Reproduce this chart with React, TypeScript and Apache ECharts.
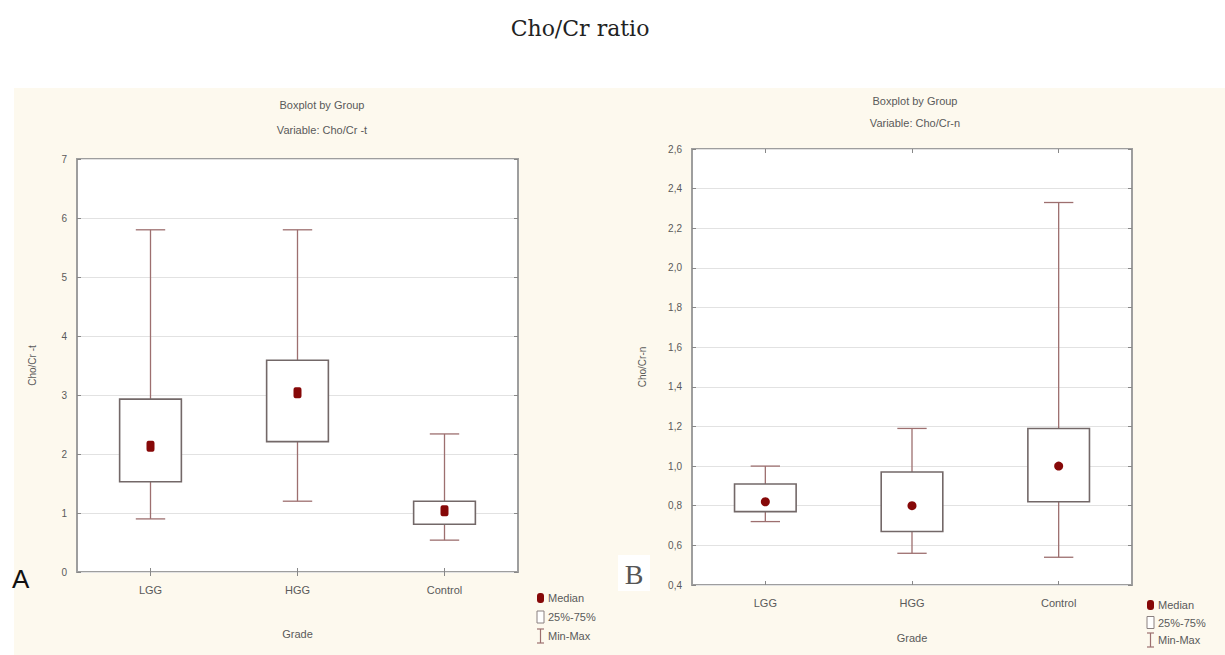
import React, { useEffect, useRef } from "react";
import * as echarts from "echarts";

// ---- data ----
const categories = ["LGG", "HGG", "Control"];
// Panel A: Cho/Cr -t
const aMin = [0.9, 1.2, 0.54];
const aQ1 = [1.53, 2.21, 0.81];
const aMedian = [2.13, 3.04, 1.04];
const aQ3 = [2.93, 3.59, 1.2];
const aMax = [5.8, 5.8, 2.34];
// Panel B: Cho/Cr-n
const bMin = [0.72, 0.56, 0.54];
const bQ1 = [0.77, 0.67, 0.82];
const bMedian = [0.82, 0.8, 1.0];
const bQ3 = [0.91, 0.97, 1.19];
const bMax = [1.0, 1.19, 2.33];

const legendLabels = ["Median", "25%-75%", "Min-Max"];

const BOX_COLOR = "#736868";
const WHISKER_COLOR = "#9d6f6f";
const MEDIAN_COLOR = "#860808";
const TEXT_COLOR = "#5a5a5a";
const SANS = "'Liberation Sans', Arial, sans-serif";

function boxRows(mn: number[], q1: number[], q3: number[], mx: number[]) {
  return categories.map((_, i) => [i, mn[i], q1[i], q3[i], mx[i]]);
}

function renderBox(params: any, api: any) {
  const i = api.value(0);
  const lo = api.coord([i, api.value(1)]);
  const q1 = api.coord([i, api.value(2)]);
  const q3 = api.coord([i, api.value(3)]);
  const hi = api.coord([i, api.value(4)]);
  const band = api.size([1, 0])[0];
  const bw = band * 0.42;
  const cw = band * 0.2;
  const cx = lo[0];
  const ws = { stroke: WHISKER_COLOR, lineWidth: 1.3 };
  return {
    type: "group",
    children: [
      { type: "line", shape: { x1: cx, y1: hi[1], x2: cx, y2: q3[1] }, style: ws },
      { type: "line", shape: { x1: cx, y1: q1[1], x2: cx, y2: lo[1] }, style: ws },
      { type: "line", shape: { x1: cx - cw / 2, y1: hi[1], x2: cx + cw / 2, y2: hi[1] }, style: ws },
      { type: "line", shape: { x1: cx - cw / 2, y1: lo[1], x2: cx + cw / 2, y2: lo[1] }, style: ws },
      {
        type: "rect",
        shape: { x: cx - bw / 2, y: q3[1], width: bw, height: q1[1] - q3[1] },
        style: { fill: "#ffffff", stroke: BOX_COLOR, lineWidth: 1.6 },
      },
    ],
  };
}

function legendGraphics(x: number, y0: number, dy: number, fs: number) {
  const els: any[] = [];
  els.push({ type: "rect", shape: { x: x - 3, y: y0 - 5, width: 7, height: 10, r: 3 }, style: { fill: MEDIAN_COLOR } });
  els.push({ type: "rect", shape: { x: x - 3, y: y0 + dy - 6, width: 7, height: 12 }, style: { fill: "#fff", stroke: "#8a8080", lineWidth: 1 } });
  const y2 = y0 + 2 * dy;
  els.push({ type: "line", shape: { x1: x + 0.5, y1: y2 - 7, x2: x + 0.5, y2: y2 + 7 }, style: { stroke: WHISKER_COLOR, lineWidth: 1.2 } });
  els.push({ type: "line", shape: { x1: x - 3, y1: y2 - 7, x2: x + 4, y2: y2 - 7 }, style: { stroke: WHISKER_COLOR, lineWidth: 1.2 } });
  els.push({ type: "line", shape: { x1: x - 3, y1: y2 + 7, x2: x + 4, y2: y2 + 7 }, style: { stroke: WHISKER_COLOR, lineWidth: 1.2 } });
  legendLabels.forEach((t, k) => {
    els.push({
      type: "text",
      x: x + 8,
      y: y0 + k * dy,
      style: { text: t, fill: TEXT_COLOR, font: `${fs}px ${SANS}`, verticalAlign: "middle", align: "left" },
    });
  });
  return els;
}

function subtitle(text: string, x: number, y: number) {
  return {
    type: "text",
    x,
    y,
    style: { text, fill: TEXT_COLOR, font: `11px ${SANS}`, align: "center", verticalAlign: "middle" },
  };
}

export default function App() {
  const ref = useRef<HTMLDivElement>(null);
  useEffect(() => {
    if (!ref.current) return;
    const chart = echarts.init(ref.current, undefined, { renderer: "svg" });
    const axisLabel = { color: TEXT_COLOR, fontSize: 11, fontFamily: SANS };
    const baseX = (gridIndex: number, nameGap: number) => ({
      type: "category",
      gridIndex,
      data: categories,
      name: "Grade",
      nameLocation: "middle",
      nameGap,
      nameTextStyle: { color: TEXT_COLOR, fontSize: 11, fontFamily: SANS },
      axisLine: { show: false },
      axisTick: { show: true, inside: true, alignWithLabel: true, length: 4, lineStyle: { color: "#888" } },
      axisLabel: { ...axisLabel, margin: 12 },
      splitLine: { show: false },
    });
    const topX = (gridIndex: number) => ({
      type: "category",
      gridIndex,
      position: "top",
      data: categories,
      axisLine: { show: false },
      axisTick: { show: true, inside: true, alignWithLabel: true, length: 4, lineStyle: { color: "#888" } },
      axisLabel: { show: false },
      splitLine: { show: false },
    });
    const option: any = {
      animation: false,
      backgroundColor: "#ffffff",
      title: {
        text: "Cho/Cr ratio",
        left: 575,
        top: 12,
        textAlign: "center",
        textStyle: { fontFamily: "'DejaVu Serif', serif", fontWeight: "normal", fontSize: 22, color: "#222" },
      },
      grid: [
        { left: 77, top: 159, width: 441, height: 413, show: true, backgroundColor: "#ffffff", borderColor: "#9e9e9e", borderWidth: 2 },
        { left: 692, top: 149, width: 440, height: 436, show: true, backgroundColor: "#ffffff", borderColor: "#9e9e9e", borderWidth: 2 },
      ],
      xAxis: [baseX(0, 56), baseX(1, 47), topX(0), topX(1)],
      yAxis: [
        {
          type: "value",
          gridIndex: 0,
          min: 0,
          max: 7,
          interval: 1,
          name: "Cho/Cr -t",
          nameLocation: "middle",
          nameGap: 40,
          nameTextStyle: { color: TEXT_COLOR, fontSize: 10, fontFamily: SANS },
          axisLine: { show: false },
          axisTick: { show: true, inside: true, length: 4, lineStyle: { color: "#888" } },
          axisLabel: { ...axisLabel, fontSize: 10, margin: 10 },
          splitLine: { show: true, lineStyle: { color: "#e2e2e2" } },
        },
        {
          type: "value",
          gridIndex: 1,
          min: 0.4,
          max: 2.6,
          interval: 0.2,
          name: "Cho/Cr-n",
          nameLocation: "middle",
          nameGap: 45,
          nameTextStyle: { color: TEXT_COLOR, fontSize: 10, fontFamily: SANS },
          axisLine: { show: false },
          axisTick: { show: true, inside: true, length: 4, lineStyle: { color: "#888" } },
          axisLabel: { ...axisLabel, fontSize: 10, margin: 10, formatter: (v: number) => v.toFixed(1).replace(".", ",") },
          splitLine: { show: true, lineStyle: { color: "#e2e2e2" } },
        },
        {
          type: "value",
          gridIndex: 0,
          position: "right",
          min: 0,
          max: 7,
          interval: 1,
          axisLine: { show: false },
          axisTick: { show: true, inside: true, length: 4, lineStyle: { color: "#888" } },
          axisLabel: { show: false },
          splitLine: { show: false },
        },
        {
          type: "value",
          gridIndex: 1,
          position: "right",
          min: 0.4,
          max: 2.6,
          interval: 0.2,
          axisLine: { show: false },
          axisTick: { show: true, inside: true, length: 4, lineStyle: { color: "#888" } },
          axisLabel: { show: false },
          splitLine: { show: false },
        },
      ],
      series: [
        {
          type: "custom",
          xAxisIndex: 0,
          yAxisIndex: 0,
          renderItem: renderBox,
          encode: { x: 0, y: [1, 2, 3, 4] },
          data: boxRows(aMin, aQ1, aQ3, aMax),
          z: 3,
        },
        {
          type: "scatter",
          xAxisIndex: 0,
          yAxisIndex: 0,
          symbol: "roundRect",
          symbolSize: [8, 11],
          itemStyle: { color: MEDIAN_COLOR, opacity: 1 },
          data: categories.map((c, i) => [c, aMedian[i]]),
          z: 5,
        },
        {
          type: "custom",
          xAxisIndex: 1,
          yAxisIndex: 1,
          renderItem: renderBox,
          encode: { x: 0, y: [1, 2, 3, 4] },
          data: boxRows(bMin, bQ1, bQ3, bMax),
          z: 3,
        },
        {
          type: "scatter",
          xAxisIndex: 1,
          yAxisIndex: 1,
          symbol: "circle",
          symbolSize: 9,
          itemStyle: { color: MEDIAN_COLOR, opacity: 1 },
          data: categories.map((c, i) => [c, bMedian[i]]),
          z: 5,
        },
      ],
      graphic: [
        {
          type: "rect",
          z: -10,
          silent: true,
          shape: { x: 14, y: 88, width: 1211, height: 567 },
          style: { fill: "#fdf9ee" },
        },
        subtitle("Boxplot by Group", 322, 105),
        subtitle("Variable: Cho/Cr -t", 322, 130),
        subtitle("Boxplot by Group", 915, 101),
        subtitle("Variable: Cho/Cr-n", 915, 123),
        {
          type: "text",
          x: 12,
          y: 579,
          style: { text: "A", fill: "#111", font: `26px ${SANS}`, verticalAlign: "middle" },
        },
        {
          type: "rect",
          shape: { x: 618, y: 555, width: 32, height: 36 },
          style: { fill: "#ffffff" },
        },
        {
          type: "text",
          x: 634,
          y: 574,
          style: { text: "B", fill: "#555", font: `28px 'Liberation Serif', serif`, align: "center", verticalAlign: "middle" },
        },
        ...legendGraphics(540, 598, 19, 11),
        ...legendGraphics(1150, 605, 17.5, 11),
      ],
    };
    chart.setOption(option);
    return () => chart.dispose();
  }, []);
  return (
    <div
      ref={ref}
      style={{ position: "fixed", left: 0, top: 0, width: 1225, height: 655 }}
    />
  );
}
